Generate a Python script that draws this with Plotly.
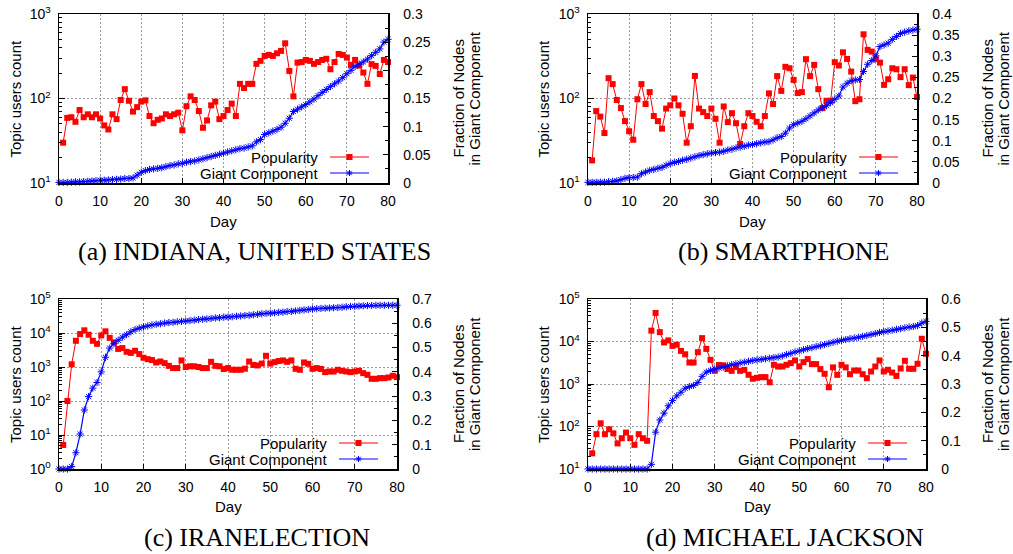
import plotly.graph_objects as go

W, H = 1013, 554

# ---------------- data ----------------
days = list(range(1, 81))          # popularity sampled daily
days_gc = list(range(0, 81))       # giant component fraction

pop_a = [30, 59, 60, 53, 73, 60, 65, 60, 65, 58,
         48, 43, 65, 57, 96, 129, 94, 70, 79, 92,
         95, 62, 51, 56, 58, 65, 62, 65, 68, 42,
         81, 106, 96, 71, 45, 55, 83, 92, 57, 62,
         73, 87, 62, 149, 133, 149, 149, 257, 279, 319,
         328, 319, 343, 366, 450, 212, 106, 266, 270, 286,
         279, 257, 270, 286, 295, 222, 270, 337, 328, 305,
         250, 286, 245, 203, 149, 255, 243, 195, 286, 270]
gc_a = [0.001, 0.001, 0.001, 0.0015, 0.002, 0.002, 0.0025, 0.003, 0.0035, 0.004,
        0.005, 0.005, 0.0055, 0.006, 0.0065, 0.007, 0.008, 0.008, 0.009, 0.014,
        0.019, 0.022, 0.024, 0.025, 0.026, 0.027, 0.029, 0.031, 0.032, 0.034,
        0.035, 0.037, 0.038, 0.039, 0.041, 0.043, 0.045, 0.047, 0.049, 0.051,
        0.053, 0.055, 0.057, 0.059, 0.061, 0.062, 0.064, 0.066, 0.073, 0.077,
        0.086, 0.089, 0.092, 0.095, 0.099, 0.106, 0.115, 0.127, 0.131, 0.135,
        0.139, 0.144, 0.149, 0.155, 0.161, 0.166, 0.171, 0.176, 0.181, 0.187,
        0.194, 0.200, 0.207, 0.211, 0.215, 0.220, 0.226, 0.232, 0.238, 0.250,
        0.255]

pop_b = [18.5, 71, 61, 39, 174, 148, 96, 77, 54, 41,
         32.5, 98, 148, 86, 119, 62, 54, 44, 76, 83,
         100, 83, 66, 30, 47, 185, 76, 69, 62, 76,
         57.5, 30, 80.5, 52.5, 67, 51, 29, 47, 67, 62,
         53, 47, 62, 115, 86, 184, 123, 237, 228, 166,
         116, 119, 292, 184, 250, 129, 77, 94, 94, 269,
         246, 352, 294, 208, 93, 98, 575, 376, 359, 292,
         266, 145, 169, 228, 222, 179, 222, 144, 177, 104]
gc_b = [0.0015, 0.0015, 0.0015, 0.002, 0.002, 0.003, 0.004, 0.005, 0.008, 0.011,
        0.013, 0.013, 0.014, 0.022, 0.026, 0.030, 0.032, 0.035, 0.037, 0.042,
        0.046, 0.049, 0.051, 0.054, 0.056, 0.059, 0.062, 0.065, 0.067, 0.069,
        0.071, 0.072, 0.073, 0.075, 0.078, 0.080, 0.083, 0.085, 0.087, 0.090,
        0.091, 0.093, 0.095, 0.097, 0.098, 0.102, 0.107, 0.110, 0.118, 0.130,
        0.138, 0.142, 0.146, 0.152, 0.159, 0.166, 0.173, 0.178, 0.183, 0.190,
        0.198, 0.206, 0.227, 0.236, 0.242, 0.244, 0.245, 0.264, 0.281, 0.290,
        0.301, 0.323, 0.327, 0.331, 0.340, 0.347, 0.354, 0.357, 0.360, 0.362,
        0.364]

pop_c = [5.1, 100, 1200, 5900, 9300, 12000, 8900, 5900, 4800, 8500,
         11200, 7200, 5300, 3400, 3600, 2800, 2600, 3000, 2400, 1870,
         1700, 1600, 1360, 1450, 1300, 1080, 930, 930, 1560, 1000,
         1050, 1050, 1000, 930, 930, 1420, 1080, 1050, 870, 930,
         830, 830, 830, 890, 1450, 1150, 1110, 1260, 2140, 1260,
         1390, 1500, 1560, 1420, 1560, 885, 827, 1360, 1240, 885,
         926, 876, 706, 738, 738, 827, 773, 738, 706, 738,
         773, 660, 589, 449, 449, 470, 470, 492, 551, 503]
gc_c = [0.0, 0.0, 0.0, 0.01, 0.067, 0.144, 0.243, 0.298, 0.333, 0.356,
        0.40, 0.46, 0.498, 0.516, 0.53, 0.543, 0.553, 0.565, 0.574, 0.580,
        0.585, 0.589, 0.593, 0.596, 0.598, 0.601, 0.603, 0.604, 0.606, 0.608,
        0.609, 0.611, 0.613, 0.615, 0.617, 0.618, 0.620, 0.622, 0.623, 0.625,
        0.626, 0.627, 0.629, 0.630, 0.632, 0.633, 0.635, 0.637, 0.639, 0.641,
        0.642, 0.643, 0.645, 0.646, 0.648, 0.649, 0.651, 0.653, 0.655, 0.657,
        0.659, 0.660, 0.661, 0.662, 0.663, 0.664, 0.665, 0.666, 0.668, 0.669,
        0.670, 0.671, 0.672, 0.673, 0.673, 0.674, 0.674, 0.674, 0.674, 0.674,
        0.674]

pop_d = [23.4, 66, 119, 66, 86, 69, 40, 53, 72, 53,
         37, 66, 53, 46, 18000, 47000, 16600, 9500, 10600, 7900,
         8400, 6000, 5000, 3200, 3200, 5600, 12000, 6700, 3700, 2040,
         2800, 2750, 2250, 2040, 2500, 2040, 2150, 1650, 1330, 1400,
         1450, 1450, 1100, 2830, 2580, 2580, 2830, 3100, 3580, 2580,
         3270, 3850, 2940, 2940, 2240, 1740, 840, 2460, 1640, 2830,
         2460, 1700, 2080, 2080, 1700, 1370, 1970, 2580, 3580, 1970,
         2160, 1860, 1550, 2320, 3520, 2280, 2280, 2990, 11600, 5130]
gc_d = [0.0, 0.0, 0.0, 0.0, 0.0, 0.0, 0.0, 0.0, 0.0, 0.0,
        0.0, 0.0, 0.0, 0.0, 0.0, 0.0165, 0.13, 0.173, 0.197, 0.223,
        0.242, 0.258, 0.271, 0.285, 0.291, 0.295, 0.305, 0.327, 0.342, 0.348,
        0.353, 0.356, 0.360, 0.364, 0.368, 0.371, 0.374, 0.377, 0.380, 0.383,
        0.385, 0.387, 0.389, 0.391, 0.393, 0.395, 0.399, 0.404, 0.408, 0.413,
        0.417, 0.421, 0.425, 0.428, 0.432, 0.435, 0.439, 0.443, 0.447, 0.451,
        0.454, 0.457, 0.460, 0.462, 0.465, 0.468, 0.471, 0.475, 0.478, 0.482,
        0.485, 0.487, 0.490, 0.493, 0.495, 0.498, 0.501, 0.503, 0.506, 0.515,
        0.521]

x_ticks = [0, 10, 20, 30, 40, 50, 60, 70, 80]
x_labels = ["0", "10", "20", "30", "40", "50", "60", "70", "80"]

ylog_ticks_ab = [10, 100, 1000]
ylog_labels_ab = ["10<sup>1</sup>", "10<sup>2</sup>", "10<sup>3</sup>"]
ylog_ticks_c = [1, 10, 100, 1000, 10000, 100000]
ylog_labels_c = ["10<sup>0</sup>", "10<sup>1</sup>", "10<sup>2</sup>",
                 "10<sup>3</sup>", "10<sup>4</sup>", "10<sup>5</sup>"]
ylog_ticks_d = [10, 100, 1000, 10000, 100000]
ylog_labels_d = ["10<sup>1</sup>", "10<sup>2</sup>", "10<sup>3</sup>",
                 "10<sup>4</sup>", "10<sup>5</sup>"]

y2_ticks_a = [0, 0.05, 0.1, 0.15, 0.2, 0.25, 0.3]
y2_labels_a = ["0", "0.05", "0.1", "0.15", "0.2", "0.25", "0.3"]
y2_ticks_b = [0, 0.05, 0.1, 0.15, 0.2, 0.25, 0.3, 0.35, 0.4]
y2_labels_b = ["0", "0.05", "0.1", "0.15", "0.2", "0.25", "0.3", "0.35", "0.4"]
y2_ticks_c = [0, 0.1, 0.2, 0.3, 0.4, 0.5, 0.6, 0.7]
y2_labels_c = ["0", "0.1", "0.2", "0.3", "0.4", "0.5", "0.6", "0.7"]
y2_ticks_d = [0, 0.1, 0.2, 0.3, 0.4, 0.5, 0.6]
y2_labels_d = ["0", "0.1", "0.2", "0.3", "0.4", "0.5", "0.6"]

captions = ["(a) INDIANA, UNITED STATES", "(b) SMARTPHONE",
            "(c) IRANELECTION", "(d) MICHAEL JACKSON"]
series_names = ["Popularity", "Giant Component"]

# ---------------- styling / geometry ----------------
RED = "#ff0000"
BLUE = "#0000ff"
FONT = "Liberation Sans"
FS = 15      # titles / legend
TFS = 14     # tick labels

panels = [
    dict(pop=pop_a, gc=gc_a, l=59, r=388, t=14, b=183,
         yr=[1, 3], yt=ylog_ticks_ab, yl=ylog_labels_ab,
         y2max=0.3, y2t=y2_ticks_a, y2l=y2_labels_a, y2step=0.05,
         ytitle_x=15, r1x=458, r2x=474, day_y=221, cap=(254, 251)),
    dict(pop=pop_b, gc=gc_b, l=588, r=917, t=14, b=183,
         yr=[1, 3], yt=ylog_ticks_ab, yl=ylog_labels_ab,
         y2max=0.4, y2t=y2_ticks_b, y2l=y2_labels_b, y2step=0.05,
         ytitle_x=543, r1x=987, r2x=1003, day_y=221, cap=(784, 251)),
    dict(pop=pop_c, gc=gc_c, l=59, r=397, t=299, b=469,
         yr=[0, 5], yt=ylog_ticks_c, yl=ylog_labels_c,
         y2max=0.7, y2t=y2_ticks_c, y2l=y2_labels_c, y2step=0.1,
         ytitle_x=15, r1x=458, r2x=474, day_y=506, cap=(257, 537)),
    dict(pop=pop_d, gc=gc_d, l=588, r=926, t=299, b=469,
         yr=[1, 5], yt=ylog_ticks_d, yl=ylog_labels_d,
         y2max=0.6, y2t=y2_ticks_d, y2l=y2_labels_d, y2step=0.1,
         ytitle_x=543, r1x=987, r2x=1003, day_y=506, cap=(785, 537)),
]


def px(x):
    return x / W


def py(y):
    return 1 - y / H


fig = go.Figure()
layout = dict(
    width=W, height=H,
    margin=dict(l=0, r=0, t=0, b=0, pad=0, autoexpand=False),
    paper_bgcolor="white", plot_bgcolor="white",
    font=dict(family=FONT, size=FS, color="black"),
    showlegend=False, hovermode=False,
)
annotations = []
shapes = []

axis_common = dict(ticks="inside", tickcolor="black", showline=True,
                   linecolor="black", linewidth=1.5, zeroline=False,
                   automargin=False,
                   tickfont=dict(family=FONT, size=TFS, color="black"))

for i, p in enumerate(panels):
    n = i + 1
    xid = "x" if n == 1 else f"x{n}"
    xname = "xaxis" if n == 1 else f"xaxis{n}"
    yn, y2n = 2 * i + 1, 2 * i + 2
    yid = "y" if yn == 1 else f"y{yn}"
    yname = "yaxis" if yn == 1 else f"yaxis{yn}"
    y2id = f"y{y2n}"
    y2name = f"yaxis{y2n}"

    fig.add_trace(go.Scatter(
        x=days, y=p["pop"], xaxis=xid, yaxis=yid, name=series_names[0],
        mode="lines+markers", cliponaxis=False,
        line=dict(color=RED, width=1),
        marker=dict(symbol="square", size=6, color=RED)))
    fig.add_trace(go.Scatter(
        x=days_gc, y=p["gc"], xaxis=xid, yaxis=y2id, name=series_names[1],
        mode="lines+markers", cliponaxis=False,
        line=dict(color=BLUE, width=1.2),
        marker=dict(symbol="asterisk-open", size=6,
                    line=dict(color=BLUE, width=1))))

    layout[xname] = dict(
        axis_common, domain=[px(p["l"]), px(p["r"])], anchor=yid,
        range=[0, 80], tickvals=x_ticks, ticktext=x_labels, ticklen=5,
        mirror=True, showgrid=True, gridcolor="#9a9a9a", griddash="2px,2px",
        gridwidth=1, ticklabelstandoff=5)

    lo, hi = p["yr"]
    minor_vals = [m * 10 ** e for e in range(lo, hi) for m in range(2, 10)]
    layout[yname] = dict(
        axis_common, domain=[py(p["b"]), py(p["t"])], anchor=xid,
        type="log", range=[lo, hi], tickvals=p["yt"], ticktext=p["yl"],
        ticklen=6, showgrid=True, gridcolor="#9a9a9a", griddash="2px,2px",
        gridwidth=1, ticklabelstandoff=4,
        minor=dict(tickvals=minor_vals, ticks="inside", ticklen=3,
                   tickcolor="black", showgrid=False))

    step = p["y2step"]
    nminor = int(round(p["y2max"] / step))
    y2minor = [round((k + 0.5) * step, 4) for k in range(nminor)]
    layout[y2name] = dict(
        axis_common, overlaying=yid, side="right", anchor=xid,
        range=[0, p["y2max"]], tickvals=p["y2t"], ticktext=p["y2l"],
        ticklen=5, showgrid=False, ticklabelstandoff=11,
        minor=dict(tickvals=y2minor, ticks="inside", ticklen=3,
                   tickcolor="black", showgrid=False))

    cy = (p["t"] + p["b"]) / 2
    cx = (p["l"] + p["r"]) / 2
    for txt, xx in [("Topic users count", p["ytitle_x"]),
                    ("Fraction of Nodes", p["r1x"]),
                    ("in Giant Component", p["r2x"])]:
        annotations.append(dict(text=txt, x=px(xx), y=py(cy),
                                xref="paper", yref="paper",
                                textangle=-90, showarrow=False,
                                xanchor="center", yanchor="middle",
                                font=dict(family=FONT, size=FS,
                                          color="black")))
    annotations.append(dict(text="Day", x=px(cx), y=py(p["day_y"]),
                            xref="paper", yref="paper", showarrow=False,
                            xanchor="center", yanchor="middle",
                            font=dict(family=FONT, size=FS, color="black")))
    annotations.append(dict(text=captions[i], x=px(p["cap"][0]),
                            y=py(p["cap"][1]), xref="paper", yref="paper",
                            showarrow=False, xanchor="center",
                            yanchor="middle",
                            font=dict(family="Liberation Serif", size=26,
                                      color="black")))

    # gnuplot-style key (text on the left, sample on the right)
    tx = p["r"] - 68
    lx0, lx1 = p["r"] - 58, p["r"] - 19
    mx = (lx0 + lx1) / 2
    for k, (name, col) in enumerate(zip(series_names, [RED, BLUE])):
        yy = p["b"] - 26 + k * 16
        annotations.append(dict(text=name, x=px(tx), y=py(yy), xref="paper",
                                yref="paper", showarrow=False,
                                xanchor="right", yanchor="middle",
                                font=dict(family=FONT, size=FS,
                                          color="black")))
        shapes.append(dict(type="line", xref="paper", yref="paper",
                           x0=px(lx0), x1=px(lx1), y0=py(yy), y1=py(yy),
                           line=dict(color=col, width=1.2 if k else 1)))
        if k == 0:
            shapes.append(dict(type="rect", xref="paper", yref="paper",
                               x0=px(mx - 3), x1=px(mx + 3),
                               y0=py(yy - 3), y1=py(yy + 3),
                               fillcolor=RED, line=dict(width=0)))
        else:
            for dx, dy in [(3, 0), (0, 3), (2.2, 2.2), (2.2, -2.2)]:
                shapes.append(dict(type="line", xref="paper", yref="paper",
                                   x0=px(mx - dx), x1=px(mx + dx),
                                   y0=py(yy - dy), y1=py(yy + dy),
                                   line=dict(color=BLUE, width=1)))

layout["annotations"] = annotations
layout["shapes"] = shapes
fig.update_layout(**layout)
fig.write_html("out.html",
               config={"displayModeBar": False, "staticPlot": True},
               post_script="document.body.style.margin='0px';"
                           "document.body.style.overflow='hidden';")
